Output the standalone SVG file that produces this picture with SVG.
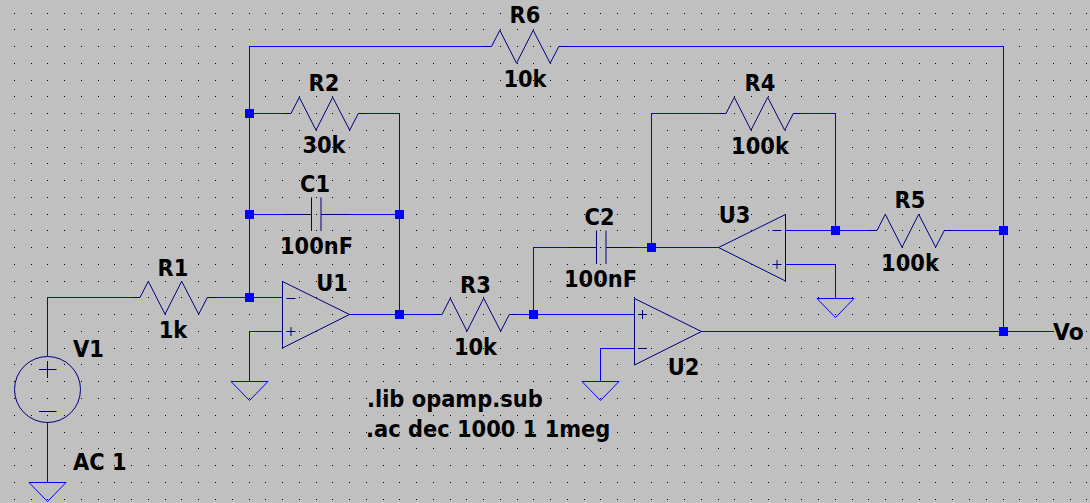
<svg xmlns="http://www.w3.org/2000/svg" xmlns:xlink="http://www.w3.org/1999/xlink" width="1090" height="503" viewBox="0 0 1090 503">
<style>
text{font-family:"DejaVu Sans","Liberation Sans",sans-serif;font-weight:700;font-size:23px;fill:#000}
.c{text-anchor:middle}
.w{fill:none;stroke:#0000ff;stroke-width:1;shape-rendering:crispEdges}
.s{fill:none;stroke:#000080;stroke-width:1}
.g{fill:none;stroke:#0000ff;stroke-width:1}
.j{fill:#0000ff}
.dots{fill:none;stroke:#000;stroke-width:1;shape-rendering:crispEdges}
</style>
<defs>
<path id="row" class="dots" d="M14 .5h1M31 .5h1M47 .5h1M64 .5h1M81 .5h1M98 .5h1M114 .5h1M131 .5h1M148 .5h1M165 .5h1M181 .5h1M198 .5h1M215 .5h1M232 .5h1M249 .5h1M265 .5h1M282 .5h1M299 .5h1M316 .5h1M332 .5h1M349 .5h1M366 .5h1M383 .5h1M399 .5h1M416 .5h1M433 .5h1M450 .5h1M466 .5h1M483 .5h1M500 .5h1M517 .5h1M533 .5h1M550 .5h1M567 .5h1M584 .5h1M600 .5h1M617 .5h1M634 .5h1M651 .5h1M667 .5h1M684 .5h1M701 .5h1M718 .5h1M734 .5h1M751 .5h1M768 .5h1M785 .5h1M801 .5h1M818 .5h1M835 .5h1M852 .5h1M868 .5h1M885 .5h1M902 .5h1M919 .5h1M935 .5h1M952 .5h1M969 .5h1M986 .5h1M1003 .5h1M1019 .5h1M1036 .5h1M1053 .5h1M1070 .5h1M1086 .5h1"/>
<path id="res" class="s" d="M-8 .5H0L8.3-15.7 25 17.2 41.7-15.7 58.7 17.2 67.3 .5H75"/>
<path id="gnd" class="g" d="M-18.5 0H18.5L0 19Z"/>
<path id="cap" class="s" d="M-28.5 .5H0M0-16.5V17M9.5-16.5V17M9.5 .5H37"/>
<path id="plus" class="s" d="M-4.5 0H4.5M0-4.5V4.5"/>
<path id="minus" class="s" d="M-4.5 0H4.5"/>
</defs>
<rect width="1090" height="503" fill="#c0c0c0"/>
<g id="grid">
<use href="#row" y="13"/><use href="#row" y="29"/><use href="#row" y="46"/><use href="#row" y="63"/><use href="#row" y="80"/><use href="#row" y="96"/><use href="#row" y="113"/><use href="#row" y="130"/><use href="#row" y="147"/><use href="#row" y="163"/><use href="#row" y="180"/><use href="#row" y="197"/><use href="#row" y="214"/><use href="#row" y="230"/><use href="#row" y="247"/><use href="#row" y="264"/><use href="#row" y="281"/><use href="#row" y="297"/><use href="#row" y="314"/><use href="#row" y="331"/><use href="#row" y="348"/><use href="#row" y="364"/><use href="#row" y="381"/><use href="#row" y="398"/><use href="#row" y="415"/><use href="#row" y="432"/><use href="#row" y="448"/><use href="#row" y="465"/><use href="#row" y="482"/><use href="#row" y="499"/>
</g>
<g id="connectors">
<path class="w" d="M47.5 356V297.5H132M47.5 422V482"/>
<path class="w" d="M207 297.5H282M249.5 46.5V297.5M249.5 46.5H484M566 46.5H1003.5V331.5M249.5 113.5H283M366 113.5H399.5V314.5M249.5 214.5H283M348 214.5H399.5"/>
<path class="w" d="M349 314.5H434M517 314.5H634M533.5 314.5V247.5H568M633 247.5H719M651.5 247.5V113.5H718M801 113.5H835.5V230.5M785 230.5H869M944 230.5H1003.5"/>
<path class="w" d="M282 331.5H249.5V381M785 264.5H835.5V298M634 348.5H600.5V381M701 331.5H1053"/>
<g class="j">
<rect x="245" y="109" width="9" height="9"/><rect x="245" y="210" width="9" height="9"/><rect x="395" y="210" width="9" height="9"/><rect x="245" y="293" width="9" height="9"/><rect x="395" y="310" width="9" height="9"/><rect x="529" y="310" width="9" height="9"/><rect x="647" y="243" width="9" height="9"/><rect x="831" y="226" width="9" height="9"/><rect x="999" y="226" width="9" height="9"/><rect x="999" y="327" width="9" height="9"/>
</g>
</g>
<g id="V1">
<circle class="s" cx="47.5" cy="389.5" r="33"/>
<path class="s" d="M39 369.5H56.5M47.5 361V378M39 411.5H56.5"/>
<text x="73" y="357" textLength="30.9" lengthAdjust="spacingAndGlyphs">V1</text>
<text x="73" y="470" textLength="53.6" lengthAdjust="spacingAndGlyphs">AC 1</text>
</g>
<g id="R1"><use href="#res" x="140" y="297"/><text class="c" x="173" y="276" textLength="30.8" lengthAdjust="spacingAndGlyphs">R1</text><text class="c" x="173" y="338" textLength="28.6" lengthAdjust="spacingAndGlyphs">1k</text></g>
<g id="R2"><use href="#res" x="291" y="113"/><text class="c" x="324" y="91" textLength="30.8" lengthAdjust="spacingAndGlyphs">R2</text><text class="c" x="324" y="153" textLength="43.2" lengthAdjust="spacingAndGlyphs">30k</text></g>
<g id="R3"><use href="#res" x="442" y="314"/><text class="c" x="475.5" y="293" textLength="30.8" lengthAdjust="spacingAndGlyphs">R3</text><text class="c" x="475.5" y="355" textLength="43.2" lengthAdjust="spacingAndGlyphs">10k</text></g>
<g id="R4"><use href="#res" x="726" y="113"/><text class="c" x="760" y="91" textLength="30.8" lengthAdjust="spacingAndGlyphs">R4</text><text class="c" x="760" y="154" textLength="57.8" lengthAdjust="spacingAndGlyphs">100k</text></g>
<g id="R5"><use href="#res" x="877" y="230"/><text class="c" x="910" y="208" textLength="30.8" lengthAdjust="spacingAndGlyphs">R5</text><text class="c" x="910" y="271" textLength="57.8" lengthAdjust="spacingAndGlyphs">100k</text></g>
<g id="R6"><use href="#res" x="491.5" y="46"/><text class="c" x="525" y="23" textLength="30.8" lengthAdjust="spacingAndGlyphs">R6</text><text class="c" x="525" y="87" textLength="43.2" lengthAdjust="spacingAndGlyphs">10k</text></g>
<g id="C1"><use href="#cap" x="311.5" y="214"/><text class="c" x="315" y="192" textLength="30" lengthAdjust="spacingAndGlyphs">C1</text><text class="c" x="316.5" y="254" textLength="73.1" lengthAdjust="spacingAndGlyphs">100nF</text></g>
<g id="C2"><use href="#cap" x="596.5" y="247"/><text class="c" x="599.5" y="225" textLength="30" lengthAdjust="spacingAndGlyphs">C2</text><text class="c" x="600.5" y="287" textLength="73.1" lengthAdjust="spacingAndGlyphs">100nF</text></g>
<g id="U1"><path class="s" d="M282.5 281.5V348L349.5 314.5Z"/><use href="#minus" x="291" y="298.5"/><use href="#plus" x="291" y="331.5"/><text class="c" x="332" y="291" textLength="31.7" lengthAdjust="spacingAndGlyphs">U1</text></g>
<g id="U2"><path class="s" d="M634.5 298.5V365L701.5 331.5Z"/><use href="#plus" x="642.5" y="314.5"/><use href="#minus" x="642.5" y="348.5"/><text class="c" x="683.5" y="375" textLength="31.7" lengthAdjust="spacingAndGlyphs">U2</text></g>
<g id="U3"><path class="s" d="M785.5 214.5V281L718.5 247.5Z"/><use href="#minus" x="777" y="230.5"/><use href="#plus" x="777" y="264.5"/><text class="c" x="734.5" y="223" textLength="31.7" lengthAdjust="spacingAndGlyphs">U3</text></g>
<g id="GND1"><use href="#gnd" x="47.5" y="482.5"/></g>
<g id="GND2"><use href="#gnd" x="249.5" y="381.5"/></g>
<g id="GND3"><use href="#gnd" x="600.5" y="381.5"/></g>
<g id="GND4"><use href="#gnd" x="835.5" y="298.5"/></g>
<g id="Vo"><text x="1053" y="340" textLength="30.7" lengthAdjust="spacingAndGlyphs">Vo</text></g>
<g id="directives">
<text x="367" y="407" textLength="175.7" lengthAdjust="spacingAndGlyphs">.lib opamp.sub</text>
<text x="366" y="437" textLength="244.4" lengthAdjust="spacingAndGlyphs">.ac dec 1000 1 1meg</text>
</g>
</svg>
